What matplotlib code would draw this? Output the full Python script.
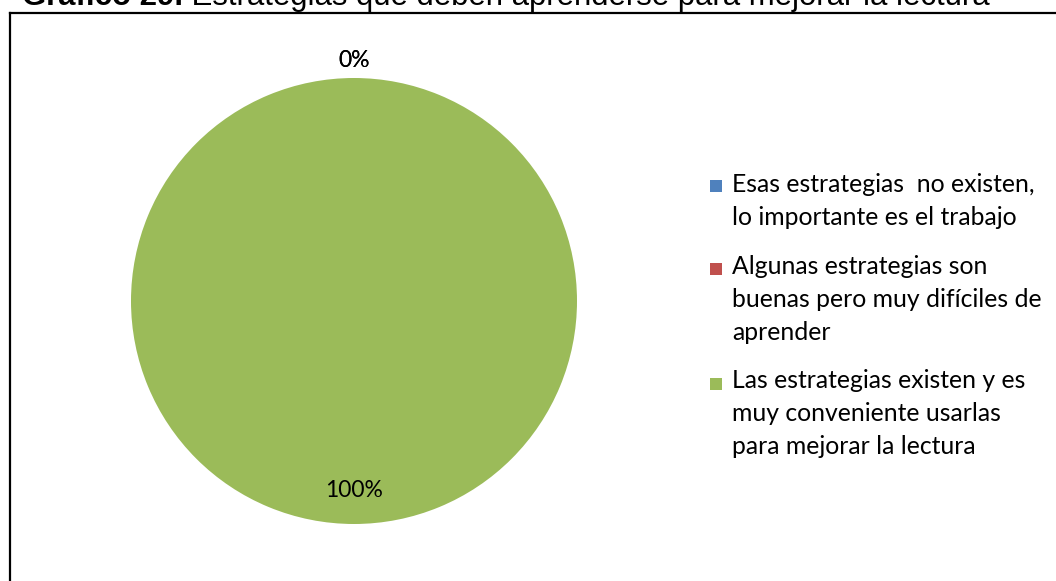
import numpy as np
import matplotlib
matplotlib.use("Agg")
import matplotlib.pyplot as plt
from matplotlib.lines import Line2D
from matplotlib.patches import Rectangle

# Data
categories = [
    "Esas estrategias  no existen,\nlo importante es el trabajo",
    "Algunas estrategias son\nbuenas pero muy difíciles de\naprender",
    "Las estrategias existen y es\nmuy conveniente usarlas\npara mejorar la lectura",
]
values = [0, 0, 100]
colors = ["#4F81BD", "#C0504D", "#9BBB59"]
title_bold = "Gráfico 29."
title_rest = " Estrategias que deben aprenderse para mejorar la lectura"

W, H = 1056, 581
fig = plt.figure(figsize=(W / 100, H / 100), dpi=100)

# pie axes: centre (354, 301) px, radius 223 px
cx, cy, r = 354, 301, 223
ax = fig.add_axes([(cx - r) / W, (H - cy - r) / H, 2 * r / W, 2 * r / H])
wedges, _ = ax.pie(values, colors=colors, startangle=90, counterclock=False,
                   radius=1, wedgeprops=dict(linewidth=0))
ax.set_xlim(-1, 1)
ax.set_ylim(-1, 1)
ax.set_aspect("equal")

total = sum(values)
for w, v in zip(wedges, values):
    ang = np.deg2rad((w.theta1 + w.theta2) / 2)
    dist = 0.85 if v > 0 else 1.08
    ax.text(dist * np.cos(ang), dist * np.sin(ang), f"{v / total:.0%}",
            ha="center", va="center", fontsize=16.5, family="Lato", color="black")

# legend, drawn by hand so the square sits on the first line of each entry
line_px = 31.5
gap_px = 20
y_first = 186
for lab, col in zip(categories, colors):
    extra = lab.count("\n")
    fig.add_artist(Rectangle((710 / W, 1 - (y_first + 6) / H), 12 / W, 12 / H,
                             facecolor=col, edgecolor="none",
                             transform=fig.transFigure))
    # baseline alignment uses the last line, so shift down by the extra lines
    fig.text(732 / W, 1 - (y_first + 7.5 + extra * line_px) / H, lab,
             fontsize=17.8, family="Lato", va="baseline", ha="left",
             linespacing=1.52)
    y_first += extra * line_px + line_px + gap_px

# border (left and top only visible)
fig.add_artist(Line2D([10 / W, 10 / W], [0, 1 - 13 / H], color="black", lw=1.6,
                      transform=fig.transFigure))
fig.add_artist(Line2D([10 / W, 1], [1 - 13 / H, 1 - 13 / H], color="black", lw=1.6,
                      transform=fig.transFigure))

# title, cut off at the top
t1 = fig.text(22 / W, 1 - 5 / H, title_bold, fontsize=22.4, weight="bold",
              family="Liberation Sans", va="baseline")
fig.canvas.draw()
bb = t1.get_window_extent()
fig.text(bb.x1 / W, 1 - 5 / H, title_rest, fontsize=22.4,
         family="Liberation Sans", va="baseline")

fig.savefig("out.png", dpi=100)
